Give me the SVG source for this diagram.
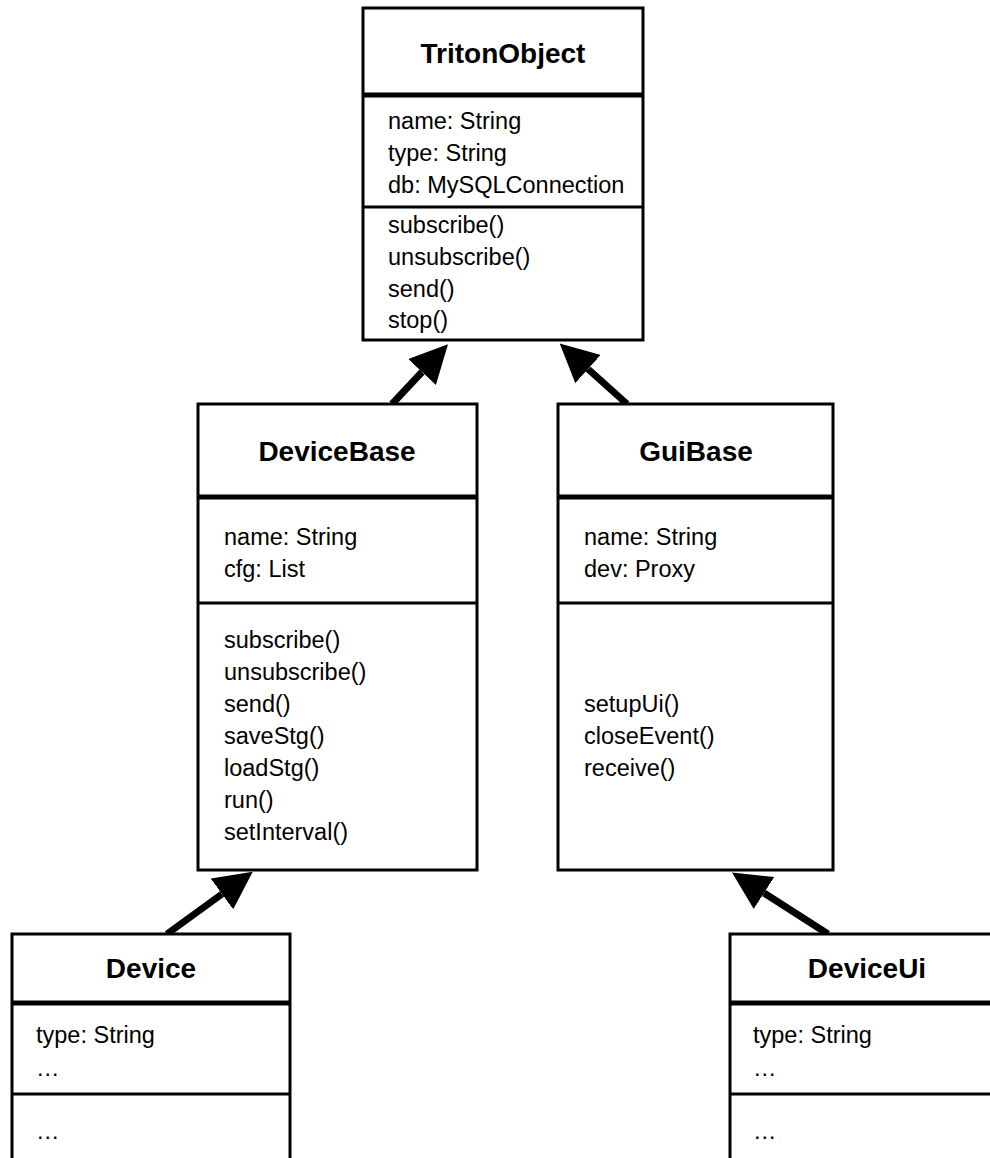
<svg xmlns="http://www.w3.org/2000/svg" width="990" height="1158" viewBox="0 0 990 1158">
<style>
.box{fill:#fff;stroke:#000;stroke-width:3}
.hd{stroke:#000;stroke-width:5}
.sep{stroke:#000;stroke-width:3}
.t{font-family:"Liberation Sans",Arial,sans-serif;font-size:23.5px;fill:#000}
.h{font-family:"Liberation Sans",Arial,sans-serif;font-size:28px;font-weight:bold;fill:#000;text-anchor:middle}
.c{stroke:#000;stroke-width:7;fill:none;marker-end:url(#ah)}
</style>
<defs>
<marker id="ah" viewBox="0 0 10 10" refX="0" refY="5" markerUnits="userSpaceOnUse" markerWidth="38" markerHeight="38" orient="auto">
<path d="M0,0 L10,5 L0,10 z" fill="#000"/>
</marker>
</defs>
<g id="connectors">
<line class="c" x1="392" y1="404" x2="422" y2="372"/>
<line class="c" x1="627" y1="404" x2="588" y2="369"/>
<line class="c" x1="167" y1="934" x2="222" y2="894"/>
<line class="c" x1="828" y1="934" x2="764" y2="893"/>
</g>
<g id="TritonObject">
<rect class="box" x="363" y="8" width="280" height="332"/>
<line class="hd" x1="363" y1="95" x2="643" y2="95"/>
<line class="sep" x1="363" y1="207" x2="643" y2="207"/>
<text class="h" x="503" y="63">TritonObject</text>
<text class="t" x="388" y="129">name: String</text>
<text class="t" x="388" y="161">type: String</text>
<text class="t" x="388" y="193">db: MySQLConnection</text>
<text class="t" x="388" y="233">subscribe()</text>
<text class="t" x="388" y="265">unsubscribe()</text>
<text class="t" x="388" y="297">send()</text>
<text class="t" x="388" y="328">stop()</text>
</g>
<g id="DeviceBase">
<rect class="box" x="198" y="404" width="279" height="466"/>
<line class="hd" x1="198" y1="497" x2="477" y2="497"/>
<line class="sep" x1="198" y1="603" x2="477" y2="603"/>
<text class="h" x="337" y="461">DeviceBase</text>
<text class="t" x="224" y="545">name: String</text>
<text class="t" x="224" y="577">cfg: List</text>
<text class="t" x="224" y="648">subscribe()</text>
<text class="t" x="224" y="680">unsubscribe()</text>
<text class="t" x="224" y="712">send()</text>
<text class="t" x="224" y="744">saveStg()</text>
<text class="t" x="224" y="776">loadStg()</text>
<text class="t" x="224" y="808">run()</text>
<text class="t" x="224" y="840">setInterval()</text>
</g>
<g id="GuiBase">
<rect class="box" x="558" y="404" width="275" height="466"/>
<line class="hd" x1="558" y1="497" x2="833" y2="497"/>
<line class="sep" x1="558" y1="603" x2="833" y2="603"/>
<text class="h" x="696" y="461">GuiBase</text>
<text class="t" x="584" y="545">name: String</text>
<text class="t" x="584" y="577">dev: Proxy</text>
<text class="t" x="584" y="712">setupUi()</text>
<text class="t" x="584" y="744">closeEvent()</text>
<text class="t" x="584" y="776">receive()</text>
</g>
<g id="Device">
<rect class="box" x="12" y="934" width="278" height="240"/>
<line class="hd" x1="12" y1="1003" x2="290" y2="1003"/>
<line class="sep" x1="12" y1="1094" x2="290" y2="1094"/>
<text class="h" x="151" y="978">Device</text>
<text class="t" x="36" y="1043">type: String</text>
<text class="t" x="36" y="1076">…</text>
<text class="t" x="36" y="1139">…</text>
</g>
<g id="DeviceUi">
<rect class="box" x="730" y="934" width="278" height="240"/>
<line class="hd" x1="730" y1="1003" x2="1008" y2="1003"/>
<line class="sep" x1="730" y1="1094" x2="1008" y2="1094"/>
<text class="h" x="867" y="978">DeviceUi</text>
<text class="t" x="753" y="1043">type: String</text>
<text class="t" x="753" y="1076">…</text>
<text class="t" x="753" y="1139">…</text>
</g>
</svg>
